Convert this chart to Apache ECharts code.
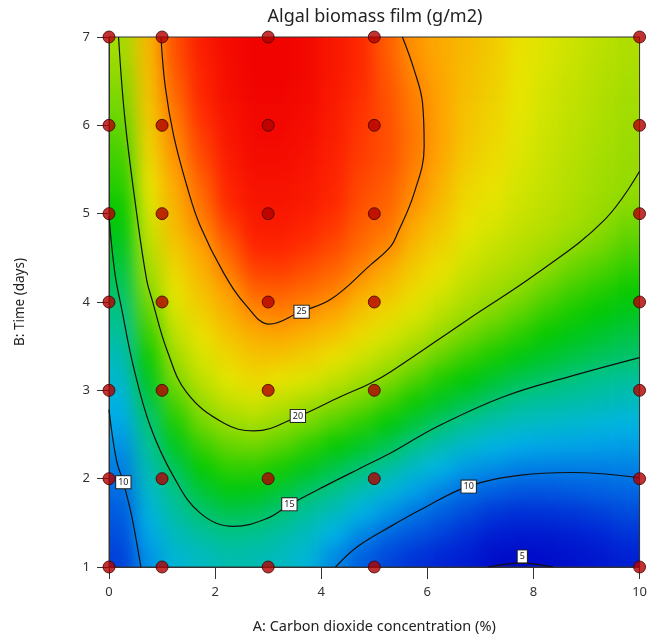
<!DOCTYPE html>
<html>
<head>
<meta charset="utf-8">
<title>Algal biomass film</title>
<script src="https://cdn.jsdelivr.net/npm/echarts@6/dist/echarts.min.js"></script>
<style>
html, body { margin: 0; padding: 0; background: #fff; }
#wrap { position: relative; width: 650px; height: 639px; }
#heatClip { position: absolute; left: 109px; top: 37px; width: 531px; height: 530px; overflow: hidden; }
#heat { position: absolute; left: -53px; top: -44px; width: 637px; height: 618px; filter: blur(9px); }
#main { position: absolute; left: 0; top: 0; width: 650px; height: 639px; }
</style>
</head>
<body>
<div id="wrap">
    <div id="heatClip"><div id="heat"></div></div>
    <div id="main"></div>
</div>
<script>
// response surface, one value per cell centre
// columns: CO2 (%) 0.25 .. 9.75, rows: time (days) 1.125 .. 6.875
var colCentres = ['0.25','0.75','1.25','1.75','2.25','2.75','3.25','3.75','4.25','4.75',
                  '5.25','5.75','6.25','6.75','7.25','7.75','8.25','8.75','9.25','9.75'];
var rowCentres = ['1.125','1.375','1.625','1.875','2.125','2.375','2.625','2.875',
                  '3.125','3.375','3.625','3.875','4.125','4.375','4.625','4.875',
                  '5.125','5.375','5.625','5.875','6.125','6.375','6.625','6.875'];
var surface = [
    [8.0, 11.0, 12.6, 13.2, 13.7, 13.6, 13.2, 12.5, 10.7, 9.3, 8.3, 7.5, 6.9, 6.3, 5.4, 5.2, 5.3, 5.6, 6.0, 6.5],
    [8.6, 11.7, 13.3, 14.1, 14.6, 14.5, 13.9, 13.2, 12.0, 10.7, 9.6, 8.8, 8.1, 7.3, 6.4, 6.1, 6.2, 6.5, 6.9, 7.5],
    [9.1, 12.3, 14.0, 15.1, 15.7, 15.5, 14.9, 14.2, 13.3, 12.1, 11.1, 10.1, 9.3, 8.5, 7.7, 7.4, 7.5, 7.7, 8.0, 8.5],
    [9.7, 13.0, 14.7, 16.1, 16.8, 16.7, 16.1, 15.3, 14.6, 13.6, 12.6, 11.5, 10.6, 9.8, 9.3, 8.9, 8.9, 9.1, 9.3, 9.5],
    [10.3, 13.6, 15.5, 17.1, 17.9, 17.9, 17.4, 16.6, 15.8, 15.0, 14.1, 13.0, 12.1, 11.2, 10.8, 10.4, 10.3, 10.3, 10.3, 10.4],
    [10.9, 14.3, 16.5, 18.1, 19.0, 19.2, 18.7, 17.9, 17.1, 16.4, 15.6, 14.6, 13.6, 12.8, 12.2, 11.8, 11.6, 11.5, 11.4, 11.3],
    [11.6, 14.9, 17.5, 19.2, 20.1, 20.4, 19.9, 19.3, 18.5, 17.8, 16.9, 16.0, 15.1, 14.3, 13.6, 13.1, 12.9, 12.7, 12.4, 12.2],
    [12.2, 15.7, 18.5, 20.2, 21.1, 21.5, 21.0, 20.5, 19.9, 19.2, 18.3, 17.3, 16.4, 15.7, 15.0, 14.4, 14.1, 13.8, 13.5, 13.2],
    [12.8, 16.5, 19.5, 21.0, 21.9, 22.5, 22.1, 21.7, 21.1, 20.4, 19.6, 18.6, 17.6, 16.9, 16.2, 15.6, 15.2, 14.8, 14.5, 14.2],
    [13.4, 17.3, 20.3, 21.6, 22.6, 23.3, 23.2, 22.8, 22.2, 21.4, 20.7, 19.9, 18.9, 18.1, 17.4, 16.7, 16.2, 15.8, 15.4, 15.1],
    [14.1, 18.1, 21.0, 22.2, 23.3, 24.1, 24.3, 23.8, 23.3, 22.4, 21.6, 20.9, 20.1, 19.2, 18.5, 17.8, 17.1, 16.6, 16.2, 15.8],
    [14.7, 18.9, 21.6, 22.8, 24.0, 25.0, 25.2, 24.8, 24.3, 23.3, 22.5, 21.7, 20.9, 20.2, 19.5, 18.8, 18.0, 17.4, 16.9, 16.5],
    [15.3, 19.7, 22.1, 23.4, 24.6, 25.8, 25.9, 25.6, 25.2, 24.2, 23.4, 22.4, 21.6, 20.8, 20.3, 19.7, 18.9, 18.2, 17.7, 17.2],
    [15.8, 20.4, 22.6, 23.9, 25.3, 26.5, 26.6, 26.2, 25.8, 25.1, 24.2, 23.0, 22.2, 21.3, 20.8, 20.4, 19.8, 19.0, 18.5, 17.9],
    [16.3, 20.9, 23.1, 24.5, 25.9, 27.2, 27.2, 26.8, 26.3, 25.6, 25.0, 23.6, 22.7, 21.7, 21.2, 20.8, 20.4, 19.8, 19.3, 18.6],
    [16.8, 21.4, 23.6, 25.1, 26.5, 27.8, 27.8, 27.3, 26.7, 25.9, 25.5, 24.2, 23.2, 22.1, 21.6, 21.1, 20.8, 20.4, 19.9, 19.2],
    [17.3, 21.8, 24.0, 25.5, 27.0, 28.2, 28.2, 27.8, 27.0, 26.2, 25.8, 24.8, 23.6, 22.4, 21.9, 21.4, 21.0, 20.6, 20.2, 19.8],
    [17.8, 22.2, 24.4, 25.9, 27.5, 28.5, 28.5, 28.1, 27.3, 26.4, 26.0, 25.1, 24.0, 22.7, 22.2, 21.5, 21.1, 20.7, 20.3, 20.0],
    [18.2, 22.5, 24.8, 26.3, 27.9, 28.8, 28.8, 28.4, 27.5, 26.6, 26.2, 25.3, 24.3, 23.0, 22.4, 21.7, 21.2, 20.8, 20.4, 20.1],
    [18.7, 22.8, 25.1, 26.6, 28.2, 29.0, 29.0, 28.6, 27.7, 26.7, 26.2, 25.4, 24.5, 23.2, 22.6, 21.8, 21.3, 20.9, 20.5, 20.2],
    [19.1, 23.1, 25.4, 26.9, 28.4, 29.1, 29.1, 28.8, 27.8, 26.8, 26.2, 25.3, 24.5, 23.3, 22.7, 21.9, 21.4, 21.0, 20.6, 20.3],
    [19.5, 23.3, 25.7, 27.2, 28.6, 29.2, 29.2, 28.9, 27.9, 26.9, 26.1, 25.2, 24.4, 23.4, 22.8, 22.0, 21.5, 21.1, 20.7, 20.4],
    [19.9, 23.5, 26.0, 27.4, 28.7, 29.3, 29.3, 29.0, 28.0, 27.0, 26.0, 25.0, 24.3, 23.5, 22.9, 22.1, 21.6, 21.2, 20.8, 20.5],
    [20.3, 23.7, 26.2, 27.6, 28.8, 29.3, 29.3, 29.0, 28.0, 27.0, 25.9, 24.8, 24.2, 23.6, 23.0, 22.2, 21.7, 21.3, 20.9, 20.6]
];

// design points (CO2 %, days)
var designCO2 = [0, 1, 3, 5, 10];
var designDays = [1, 2, 3, 4, 5, 6, 7];

// contour lines: [CO2, days]
var contour25 = [[0.98,7.0],[1.06,6.44],[1.22,5.88],[1.47,5.31],[1.72,4.86],[2.16,4.33],[2.60,3.95],[3.02,3.75],
                 [3.61,3.89],[4.18,4.03],[4.93,4.42],[5.31,4.63],[5.44,4.78],[5.75,5.23],[5.94,5.76],[5.91,6.25],[5.75,6.63],[5.53,7.0]];
var contour20 = [[0.18,7.0],[0.30,6.07],[0.52,5.01],[0.71,4.25],[0.81,4.03],[1.09,3.46],[1.47,2.97],[2.16,2.63],[2.73,2.54],
                 [3.55,2.70],[4.37,2.93],[4.93,3.08],[5.31,3.21],[6.76,3.80],[8.08,4.33],[9.34,4.93],[10,5.48]];
var contour15 = [[0,4.97],[0.11,4.33],[0.24,3.92],[0.46,3.27],[0.78,2.59],[1.22,2.02],[1.72,1.61],[2.35,1.46],[2.98,1.55],
                 [3.39,1.70],[4.05,1.91],[4.81,2.14],[5.31,2.29],[6.19,2.59],[7.45,2.93],[8.71,3.16],[10,3.37]];
var contour10a = [[0,2.78],[0.14,2.21],[0.27,1.96],[0.43,1.57],[0.60,1.0]];
var contour10b = [[4.27,1.0],[4.68,1.23],[5.31,1.46],[5.88,1.65],[6.76,1.91],[7.77,2.04],[8.71,2.07],[10,2.01]];
var contour5 = [[7.14,1.0],[7.77,1.045],[8.37,1.0]];
var contourLabels = [[3.63,3.89,'25'],[3.56,2.71,'20'],[3.40,1.71,'15'],[0.27,1.96,'10'],[6.78,1.91,'10'],[7.79,1.12,'5']];

var font = 'Noto Sans';
var axisColor = '#333';
var palette = ['#0000c4', '#0028d6', '#0066e2', '#00b2e8', '#00c290', '#00c800',
               '#80d800', '#e8e600', '#ffa200', '#ff2800', '#f00000'];

// colour layer: the surface cells plus two edge cells on each side,
// so the soft edge of the blur falls outside the clipped plot area
var pad = 2;
var heatCols = [], heatRows = [], heatData = [];
for (var c = -pad; c < colCentres.length + pad; c++) heatCols.push('c' + c);
for (var r = -pad; r < rowCentres.length + pad; r++) heatRows.push('r' + r);
for (var r = -pad; r < rowCentres.length + pad; r++) {
    var rr = Math.min(Math.max(r, 0), rowCentres.length - 1);
    for (var c = -pad; c < colCentres.length + pad; c++) {
        var cc = Math.min(Math.max(c, 0), colCentres.length - 1);
        heatData.push([c + pad, r + pad, surface[rr][cc]]);
    }
}

var heatChart = echarts.init(document.getElementById('heat'));
heatChart.setOption({
    animation: false,
    grid: { left: 0, right: 0, top: 0, bottom: 0 },
    xAxis: { type: 'category', data: heatCols, show: false },
    yAxis: { type: 'category', data: heatRows, show: false },
    visualMap: { show: false, min: 4.5, max: 29.5, inRange: { color: palette } },
    series: [{
        type: 'heatmap',
        data: heatData,
        progressive: 0,
        silent: true,
        itemStyle: { borderWidth: 0 }
    }]
});

var points = [];
for (var i = 0; i < designCO2.length; i++) {
    for (var j = 0; j < designDays.length; j++) {
        points.push([designCO2[i], designDays[j]]);
    }
}

function contourSeries(data) {
    return {
        type: 'line',
        data: data,
        smooth: 0.4,
        symbol: 'none',
        silent: true,
        lineStyle: { color: '#111', width: 1.2 },
        z: 3
    };
}

var myChart = echarts.init(document.getElementById('main'));
var option = {
    backgroundColor: 'transparent',
    animation: false,
    title: {
        text: 'Algal biomass film (g/m2)',
        left: 375,
        top: 8,
        padding: 0,
        textAlign: 'center',
        textStyle: { fontFamily: font, fontSize: 18, fontWeight: 'normal', color: '#222' }
    },
    grid: { left: 109, right: 10, top: 37, bottom: 72, show: true, borderColor: axisColor, borderWidth: 1, backgroundColor: 'transparent' },
    xAxis: {
        type: 'value',
        min: 0,
        max: 10,
        interval: 2,
        name: 'A: Carbon dioxide concentration (%)',
        nameLocation: 'middle',
        nameGap: 52,
        nameTextStyle: { fontFamily: font, fontSize: 14.5, color: '#222' },
        axisLine: { show: true, lineStyle: { color: axisColor, width: 1 } },
        axisTick: { show: true, length: 12, lineStyle: { color: axisColor } },
        axisLabel: { margin: 19, fontFamily: font, fontSize: 13, color: '#333' },
        splitLine: { show: false }
    },
    yAxis: {
        type: 'value',
        min: 1,
        max: 7,
        interval: 1,
        name: 'B: Time (days)',
        nameLocation: 'middle',
        nameGap: 82,
        nameTextStyle: { fontFamily: font, fontSize: 13.5, color: '#222' },
        axisLine: { show: true, lineStyle: { color: axisColor, width: 1 } },
        axisTick: { show: true, length: 12, lineStyle: { color: axisColor } },
        axisLabel: { margin: 19, fontFamily: font, fontSize: 13, color: '#333' },
        splitLine: { show: false }
    },
    series: [
        contourSeries(contour25),
        contourSeries(contour20),
        contourSeries(contour15),
        contourSeries(contour10a),
        contourSeries(contour10b),
        contourSeries(contour5),
        {
            type: 'scatter',
            data: contourLabels,
            symbol: 'rect',
            symbolSize: 1,
            silent: true,
            itemStyle: { color: 'rgba(0,0,0,0)' },
            label: {
                show: true,
                position: 'inside',
                formatter: function (p) { return p.data[2]; },
                fontFamily: font,
                fontSize: 9,
                color: '#222',
                opacity: 1,
                backgroundColor: '#ffffff',
                borderColor: '#222',
                borderWidth: 1,
                padding: [2, 2, 1, 2]
            },
            z: 4
        }, {
            type: 'scatter',
            data: points,
            symbolSize: 12,
            clip: false,
            silent: true,
            itemStyle: { color: '#b20000', borderColor: '#3c0000', borderWidth: 1 },
            z: 5
        }
    ]
};
myChart.setOption(option);
</script>
</body>
</html>
